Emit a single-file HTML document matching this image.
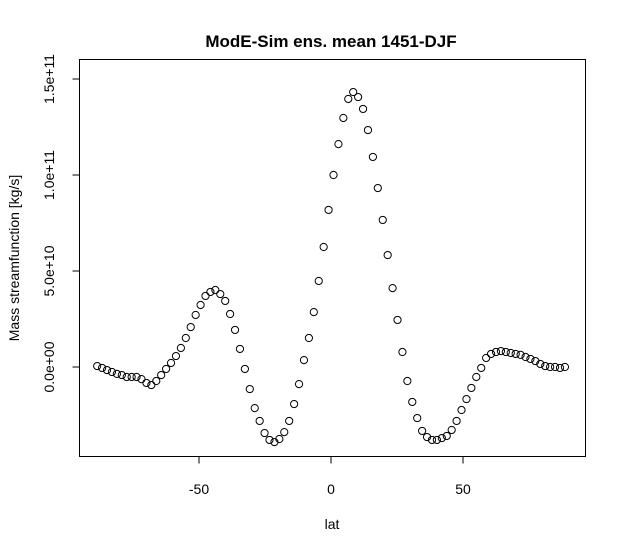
<!DOCTYPE html>
<html><head><meta charset="utf-8"><style>
html,body{margin:0;padding:0;background:#fff;}
svg{display:block;font-family:"Liberation Sans",sans-serif;}
</style></head><body>
<svg id="chart" width="625" height="555">
<rect width="625" height="555" fill="#fff"/>
<text x="331" y="47" text-anchor="middle" font-size="17" font-weight="bold">ModE-Sim ens. mean 1451-DJF</text>
<rect x="79.5" y="59.5" width="506" height="397" fill="none" stroke="#000"/>
<text x="332" y="529" text-anchor="middle" font-size="14">lat</text>
<text transform="translate(19,258) rotate(-90)" text-anchor="middle" font-size="14">Mass streamfunction [kg/s]</text>
<g id="xaxis"></g>
<g id="yaxis"></g>
<g id="points"></g>
</svg>
<script>
const xTicks = [-50, 0, 50];
const xTickLabels = ["-50", "0", "50"];
const yTicks = [0, 5, 10, 15];
const yTickLabels = ["0.0e+00", "5.0e+10", "1.0e+11", "1.5e+11"];
const latStart = -88.57;
const latStep = 1.865;
// streamfunction values in units of 1e10 kg/s
const values = [0.05,-0.05,-0.16,-0.26,-0.36,-0.42,-0.52,-0.52,-0.52,-0.63,-0.83,-0.94,-0.73,-0.42,-0.10,0.21,0.57,0.99,1.51,2.08,2.71,3.23,3.70,3.91,4.01,3.80,3.44,2.76,1.93,0.94,-0.10,-1.15,-2.14,-2.81,-3.44,-3.80,-3.91,-3.75,-3.39,-2.81,-1.93,-0.89,0.36,1.51,2.86,4.48,6.25,8.18,10.0,11.61,12.97,13.96,14.32,14.06,13.44,12.34,10.94,9.32,7.66,5.83,4.11,2.45,0.78,-0.73,-1.82,-2.66,-3.33,-3.65,-3.80,-3.80,-3.70,-3.59,-3.28,-2.81,-2.24,-1.67,-1.09,-0.52,-0.05,0.47,0.68,0.78,0.83,0.78,0.73,0.68,0.63,0.52,0.42,0.31,0.16,0.05,0,0,-0.05,0];

const NS = "http://www.w3.org/2000/svg";
function xs(lat){ return 331 + lat * 2.64; }
function ys(v){ return 367 - v * 19.2; }
function mk(tag, attrs, parent){ const e = document.createElementNS(NS, tag); for (const k in attrs) e.setAttribute(k, attrs[k]); parent.appendChild(e); return e; }

const xg = document.getElementById('xaxis');
mk('line', {x1: xs(xTicks[0]), x2: xs(xTicks[xTicks.length-1]), y1: 456.5, y2: 456.5, stroke: '#000'}, xg);
xTicks.forEach((t, i) => {
  const l = mk('line', {x1: xs(t), x2: xs(t), y1: 456.5, y2: 463.5, stroke: '#000'}, xg);
  
  
  const tx = mk('text', {x: xs(t), y: 494, 'text-anchor': 'middle', 'font-size': 14}, xg);
  tx.textContent = xTickLabels[i];
  
  
});

const yg = document.getElementById('yaxis');
mk('line', {x1: 79.5, x2: 79.5, y1: ys(yTicks[0]), y2: ys(yTicks[yTicks.length-1]), stroke: '#000'}, yg);
yTicks.forEach((t, i) => {
  const l = mk('line', {x1: 72.5, x2: 79.5, y1: ys(t), y2: ys(t), stroke: '#000'}, yg);
  
  
  const tx = mk('text', {transform: 'translate(54,' + ys(t) + ') rotate(-90)', 'text-anchor': 'middle', 'font-size': 14}, yg);
  tx.textContent = yTickLabels[i];
  
  
});

const pg = document.getElementById('points');
values.forEach((v, i) => {
  const c = mk('circle', {cx: xs(latStart + i * latStep), cy: ys(v), r: 3.6, fill: 'none', stroke: '#000', 'stroke-width': 1}, pg);
  
  
});
</script>
</body></html>
